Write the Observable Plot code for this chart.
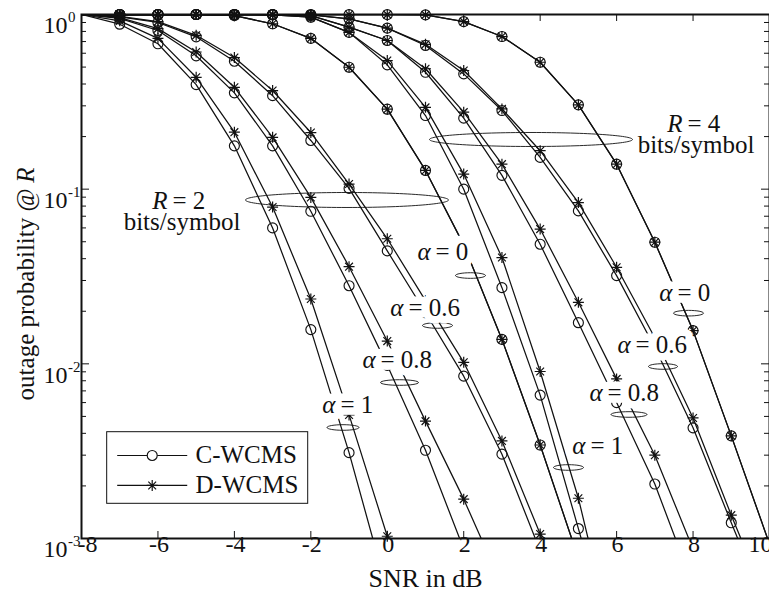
<!DOCTYPE html>
<html><head><meta charset="utf-8">
<script src="https://cdn.jsdelivr.net/npm/d3@7"></script>
<script src="https://cdn.jsdelivr.net/npm/@observablehq/plot@0.6"></script>
<style>html,body{margin:0;padding:0;background:#fff} svg{display:block}</style>
</head><body><div id="chart"></div>
<script>
// ---- data (outage probability vs SNR in dB) ----
const snr = [-8,-7,-6,-5,-4,-3,-2,-1,0,1,2,3,4,5,6,7,8,9,10];

// R = 2 bits/symbol
const r2_a0    = [1,1,1,1,0.985,0.885,0.73,0.499,0.287,0.128,0.048,0.0138,0.00343,0.00077,null,null,null,null,null];
const r2_a06_c = [1,0.97,0.90,0.745,0.54,0.343,0.19,0.101,0.0443,0.0196,0.0085,0.00304,0.00085,null,null,null,null,null,null];
const r2_a06_d = [1,0.975,0.91,0.76,0.567,0.367,0.211,0.107,0.052,0.023,0.0102,0.00362,0.00106,0.0003,null,null,null,null,null];
const r2_a08_c = [1,0.95,0.81,0.58,0.356,0.177,0.0747,0.028,0.0098,0.0032,0.00087,null,null,null,null,null,null,null,null];
const r2_a08_d = [1,0.96,0.83,0.61,0.383,0.198,0.0897,0.036,0.0135,0.0047,0.00168,0.00054,null,null,null,null,null,null,null];
const r2_a1_c  = [1,0.88,0.68,0.397,0.177,0.060,0.0157,0.0031,0.0005,null,null,null,null,null,null,null,null,null,null];
const r2_a1_d  = [1,0.92,0.73,0.437,0.212,0.079,0.0235,0.0051,0.00103,0.00015,null,null,null,null,null,null,null,null,null];

// R = 4 bits/symbol
const r4_a0    = [1,1,1,1,1,1,1,0.999,0.998,0.995,0.91,0.748,0.533,0.304,0.139,0.0497,0.0155,0.00387,0.00093];
const r4_a06_c = [1,1,1,1,1,1,0.995,0.945,0.835,0.665,0.457,0.282,0.152,0.0751,0.032,0.0124,0.0043,0.00123,0.00036];
const r4_a06_d = [1,1,1,1,1,1,0.995,0.945,0.835,0.675,0.478,0.288,0.166,0.0838,0.0357,0.0141,0.0049,0.00136,0.0004];
const r4_a08_c = [1,1,1,1,1,0.998,0.985,0.846,0.71,0.467,0.255,0.12,0.0484,0.0172,0.006,0.00205,0.00054,null,null];
const r4_a08_d = [1,1,1,1,1,0.998,0.985,0.846,0.71,0.489,0.276,0.139,0.0591,0.0225,0.0082,0.0030,0.00087,null,null];
const r4_a1_c  = [1,1,1,1,1,0.995,0.965,0.79,0.515,0.264,0.100,0.0273,0.00662,0.00114,0.00019,null,null,null,null];
const r4_a1_d  = [1,1,1,1,1,0.995,0.965,0.79,0.545,0.294,0.122,0.0406,0.00904,0.0017,0.00021,null,null,null,null];

const schemes = ["C-WCMS", "D-WCMS"];

// tick labels
const xTicks = [-8,-6,-4,-2,0,2,4,6,8,10];
const yTicks = [1, 0.1, 0.01, 0.001];
const yExp = ["0", "-1", "-2", "-3"];
const yMinor = [0.2,0.3,0.4,0.5,0.6,0.7,0.8,0.9,0.02,0.03,0.04,0.05,0.06,0.07,0.08,0.09,0.002,0.003,0.004,0.005,0.006,0.007,0.008,0.009];

// annotation anchors (data coordinates)
const alphaLabels = [
  {x: 1.131, p: 0.03905, v: "0"}, {x: 0.424, p: 0.01891, v: "0.6"},
  {x: -0.308, p: 0.009528, v: "0.8"}, {x: -1.355, p: 0.005196, v: "1"},
  {x: 7.462, p: 0.02275, v: "0"}, {x: 6.364, p: 0.01146, v: "0.6"},
  {x: 5.631, p: 0.006166, v: "0.8"}, {x: 5.186, p: 0.003027, v: "1"}
];
const smallEllipses = [
  {x: 2.177, p: 0.03203, rx: 15}, {x: 1.314, p: 0.01658, rx: 15},
  {x: 0.32, p: 0.007816, rx: 19}, {x: -1.158, p: 0.004321, rx: 16},
  {x: 7.881, p: 0.0195, rx: 15}, {x: 7.214, p: 0.009656, rx: 14.5},
  {x: 6.324, p: 0.005129, rx: 18}, {x: 4.741, p: 0.00255, rx: 15}
];
const bigEllipses = [{x: -1.054, p: 0.0867}, {x: 3.76, p: 0.1925}];
const rateLabels = [
  {x: -5.75, p: 0.07749, v: "2", bx: -5.371, bp: 0.05953},
  {x: 7.724, p: 0.2119, v: "4", bx: 8.077, bp: 0.1622}
];
const legendBox = [{x1: -7.328, x2: -2.069, y1: 0.00158, y2: 0.004061}];
const legendRows = [
  {xa: -7.066, xb: -5.234, xm: -6.150, xt: -5.017, p: 0.002987, name: schemes[0]},
  {xa: -7.066, xb: -5.234, xm: -6.150, xt: -5.017, p: 0.002012, name: schemes[1]}
];

// ---- build table ----
const series = [
  {id: "r2a0c", s: "C", v: r2_a0}, {id: "r2a0d", s: "D", v: r2_a0},
  {id: "r2a06c", s: "C", v: r2_a06_c}, {id: "r2a06d", s: "D", v: r2_a06_d},
  {id: "r2a08c", s: "C", v: r2_a08_c}, {id: "r2a08d", s: "D", v: r2_a08_d},
  {id: "r2a1c", s: "C", v: r2_a1_c}, {id: "r2a1d", s: "D", v: r2_a1_d},
  {id: "r4a0c", s: "C", v: r4_a0}, {id: "r4a0d", s: "D", v: r4_a0},
  {id: "r4a06c", s: "C", v: r4_a06_c}, {id: "r4a06d", s: "D", v: r4_a06_d},
  {id: "r4a08c", s: "C", v: r4_a08_c}, {id: "r4a08d", s: "D", v: r4_a08_d},
  {id: "r4a1c", s: "C", v: r4_a1_c}, {id: "r4a1d", s: "D", v: r4_a1_d}
];
const rows = series.flatMap(ser => snr.map((x, i) => ({snr: x, p: ser.v[i], id: ser.id, s: ser.s})))
  .filter(d => d.p != null);
const shown = d => d.snr > -8 && d.p >= 1e-3;

// ---- custom symbols ----
const asterisk = {draw(ctx, size) {
  const r = Math.sqrt(size / Math.PI), d = r * Math.SQRT1_2;
  ctx.moveTo(-r, 0); ctx.lineTo(r, 0);
  ctx.moveTo(0, -r); ctx.lineTo(0, r);
  ctx.moveTo(-d, -d); ctx.lineTo(d, d);
  ctx.moveTo(-d, d); ctx.lineTo(d, -d);
}};
function ellipse(ry) {
  return {draw(ctx, size) {
    const rx = Math.sqrt(size / Math.PI), k = 0.5523;
    ctx.moveTo(rx, 0);
    ctx.bezierCurveTo(rx, k * ry, k * rx, ry, 0, ry);
    ctx.bezierCurveTo(-k * rx, ry, -rx, k * ry, -rx, 0);
    ctx.bezierCurveTo(-rx, -k * ry, -k * rx, -ry, 0, -ry);
    ctx.bezierCurveTo(k * rx, -ry, rx, -k * ry, rx, 0);
    ctx.closePath();
  }};
}

const FS = 25, W = 688, H = 524, ink = "#111";
const halo = {fill: "white", stroke: "white", strokeWidth: 15, strokeLinejoin: "round"};

const marks = [
  Plot.frame({stroke: ink, strokeWidth: 2}),
  // ticks (inward)
  Plot.ruleX(xTicks, {x: d => d, insetTop: H - 7, stroke: ink}),
  Plot.ruleX(xTicks, {x: d => d, insetBottom: H - 7, stroke: ink}),
  Plot.ruleY(yTicks, {y: d => d, insetRight: W - 8, stroke: ink}),
  Plot.ruleY(yTicks, {y: d => d, insetLeft: W - 8, stroke: ink}),
  Plot.ruleY(yMinor, {y: d => d, insetRight: W - 5, stroke: ink}),
  Plot.ruleY(yMinor, {y: d => d, insetLeft: W - 5, stroke: ink}),
  // curves
  Plot.line(rows, {x: "snr", y: "p", z: "id", stroke: ink, strokeWidth: 1.25, clip: true}),
  Plot.dot(rows, {filter: d => d.s === "C" && shown(d), x: "snr", y: "p", r: 5, fill: "none", stroke: ink, strokeWidth: 1.15}),
  Plot.dot(rows, {filter: d => d.s === "D" && shown(d), x: "snr", y: "p", r: 5.5, symbol: asterisk, fill: "none", stroke: ink, strokeWidth: 1.2}),
  // group ellipses
  ...smallEllipses.map(e => Plot.dot([e], {x: "x", y: "p", r: e.rx, symbol: ellipse(2.8), fill: "none", stroke: ink, strokeWidth: 0.9})),
  Plot.dot([bigEllipses[0]], {x: "x", y: "p", r: 101.5, symbol: ellipse(7.5), fill: "none", stroke: ink, strokeWidth: 0.9}),
  Plot.dot([bigEllipses[1]], {x: "x", y: "p", r: 101.5, symbol: ellipse(7), fill: "none", stroke: ink, strokeWidth: 0.9}),
  // alpha labels: halo layer then text layer
  Plot.text(alphaLabels, {x: "x", y: "p", text: () => "α", textAnchor: "end", fontStyle: "italic", fontSize: FS, lineAnchor: "bottom", ...halo}),
  Plot.text(alphaLabels, {x: "x", y: "p", text: d => "= " + d.v, textAnchor: "start", dx: 5, fontSize: FS, lineAnchor: "bottom", ...halo}),
  Plot.text(alphaLabels, {x: "x", y: "p", text: () => "α", textAnchor: "end", fontStyle: "italic", fontSize: FS, lineAnchor: "bottom", fill: ink}),
  Plot.text(alphaLabels, {x: "x", y: "p", text: d => "= " + d.v, textAnchor: "start", dx: 5, fontSize: FS, lineAnchor: "bottom", fill: ink}),
  // rate labels
  Plot.text(rateLabels, {x: "x", y: "p", text: () => "R", textAnchor: "end", fontStyle: "italic", fontSize: FS, lineAnchor: "bottom", fill: ink}),
  Plot.text(rateLabels, {x: "x", y: "p", text: d => "= " + d.v, textAnchor: "start", dx: 5, fontSize: FS, lineAnchor: "bottom", fill: ink}),
  Plot.text(rateLabels, {x: "bx", y: "bp", text: () => "bits/symbol", textAnchor: "middle", fontSize: FS, lineAnchor: "bottom", dy: 1, fill: ink}),
  // legend
  Plot.rect(legendBox, {x1: "x1", x2: "x2", y1: "y1", y2: "y2", fill: "white", stroke: ink, strokeWidth: 1}),
  Plot.link(legendRows, {x1: "xa", x2: "xb", y1: "p", y2: "p", stroke: ink, strokeWidth: 1.2}),
  Plot.dot(legendRows.slice(0, 1), {x: "xm", y: "p", r: 5, fill: "white", stroke: ink, strokeWidth: 1.15}),
  Plot.dot(legendRows.slice(1), {x: "xm", y: "p", r: 5.5, symbol: asterisk, fill: "none", stroke: ink, strokeWidth: 1.2}),
  Plot.text(legendRows, {x: "xt", y: "p", text: "name", textAnchor: "start", fontSize: FS, fill: ink}),
  // tick labels
  Plot.text(xTicks.slice(0, 1), {x: d => d, text: d => String(d), frameAnchor: "bottom", dx: 6, dy: 13, fontSize: 24, fill: ink}),
  Plot.text(xTicks.slice(1, -1), {x: d => d, text: d => String(d), frameAnchor: "bottom", dx: 1, dy: 13, fontSize: 24, fill: ink}),
  Plot.text(xTicks.slice(-1), {x: d => d, text: d => String(d), frameAnchor: "bottom", dx: -9, dy: 13, fontSize: 24, fill: ink}),
  Plot.text(yTicks, {y: d => d, text: () => "10", frameAnchor: "left", textAnchor: "end", dx: -14, dy: 11, fontSize: 24, fill: ink}),
  Plot.text(yTicks, {y: d => d, text: (d, i) => yExp[i], frameAnchor: "left", textAnchor: "start", dx: -13.5, dy: 3, fontSize: 15, fill: ink}),
  // axis titles
  Plot.text(["SNR in dB"], {text: d => d, frameAnchor: "bottom", lineAnchor: "bottom", dy: 48, fontSize: 26, fill: ink}),
  Plot.text(["outage probability @"], {text: d => d, frameAnchor: "left", rotate: -90, textAnchor: "end", lineAnchor: "bottom", dx: -48, dy: -88, fontSize: FS, fill: ink}),
  Plot.text(["R"], {text: d => d, frameAnchor: "left", rotate: -90, textAnchor: "end", lineAnchor: "bottom", dx: -48, dy: -109, fontSize: FS, fontStyle: "italic", fill: ink})
];

const chart = Plot.plot({
  width: 769, height: 591,
  marginLeft: 81, marginRight: 0, marginTop: 14, marginBottom: 53,
  style: {fontFamily: "'Liberation Serif', 'Times New Roman', serif", background: "white", color: ink, overflow: "hidden"},
  x: {domain: [-8, 10], axis: null},
  y: {type: "log", domain: [1e-3, 1], axis: null},
  marks
});
document.getElementById("chart").append(chart);
</script></body></html>
